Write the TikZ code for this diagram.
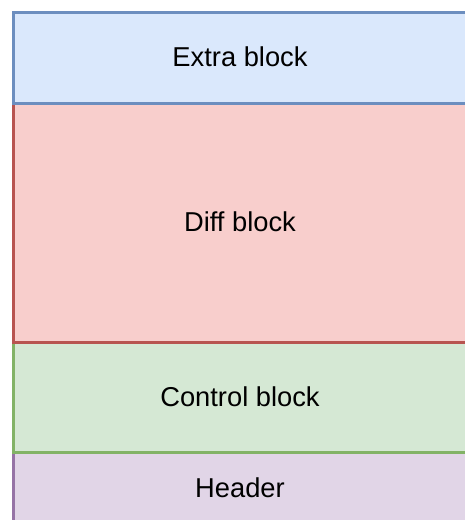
\documentclass[tikz,border=0pt]{standalone}
\usepackage{fontspec}
\setmainfont{Liberation Sans}
\definecolor{bluefill}{HTML}{DAE8FC}\definecolor{bluedraw}{HTML}{6C8EBF}
\definecolor{redfill}{HTML}{F8CECC}\definecolor{reddraw}{HTML}{B85450}
\definecolor{greenfill}{HTML}{D5E8D4}\definecolor{greendraw}{HTML}{82B366}
\definecolor{purplefill}{HTML}{E1D5E7}\definecolor{purpledraw}{HTML}{9673A6}
\tikzset{
  block/.style={rectangle, line width=3pt, minimum width=457pt, inner sep=0pt,
    font=\fontsize{27.3pt}{32pt}\selectfont},
}
\begin{document}
\begin{tikzpicture}[x=1pt,y=-1pt]
  \useasboundingbox (0,0) rectangle (464,520);
  % stacked blocks, top to bottom
  \node[block, fill=purplefill, draw=purpledraw, minimum height=120pt, anchor=north west] (header) at (11.5,451) {};
  \node[block, fill=greenfill, draw=greendraw, minimum height=110pt, anchor=north west] (control) at (11.5,341) {};
  \node[block, fill=redfill, draw=reddraw, minimum height=239pt, anchor=north west] (diff) at (11.5,102) {};
  \node[block, fill=bluefill, draw=bluedraw, minimum height=91pt, anchor=north west] (extra) at (11.5,11) {};
  % labels
  \node[font=\fontsize{27.3pt}{32pt}\selectfont] at (240,57) {Extra block};
  \node[font=\fontsize{27.3pt}{32pt}\selectfont] at (240,222) {Diff block};
  \node[font=\fontsize{27.3pt}{32pt}\selectfont] at (240,397) {Control block};
  \node[font=\fontsize{27.3pt}{32pt}\selectfont] at (240,488) {Header};
\end{tikzpicture}
\end{document}
